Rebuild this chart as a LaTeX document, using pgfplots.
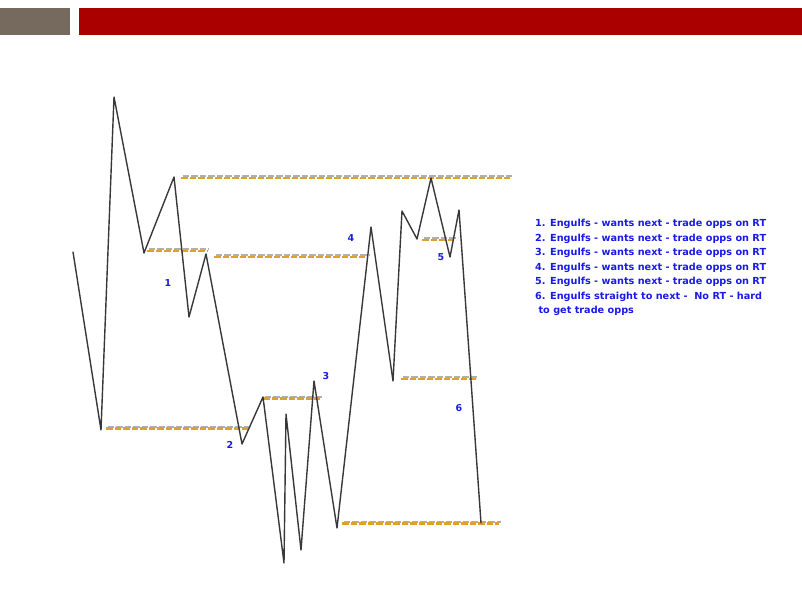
\documentclass[border=0pt]{standalone}
\usepackage{fontspec}
\setmainfont{DejaVu Sans}
\usepackage{pgfplots}
\pgfplotsset{compat=1.18}
\definecolor{hdrgray}{HTML}{76695D}
\definecolor{hdrred}{HTML}{AB0000}
\definecolor{lvlorange}{HTML}{E0A030}
\definecolor{lvlgray}{HTML}{B0B0B0}
\definecolor{zig}{HTML}{383838}
\definecolor{txtblue}{HTML}{1A1AE6}
\begin{document}
\begin{tikzpicture}
\begin{axis}[
  width=802bp, height=592bp, scale only axis,
  xmin=0, xmax=802, ymin=0, ymax=592, y dir=reverse,
  hide axis, clip=false,
]
% bounding frame
\addplot[draw=none] coordinates {(0,0) (802,592)};
% header bars
\fill[hdrgray] (axis cs:0,8) rectangle (axis cs:70,35);
\fill[hdrred] (axis cs:79,8) rectangle (axis cs:802,35);
% level lines: gray shadow then orange
\pgfplotsset{
  shadow/.style={lvlgray, line width=1.8bp, dash pattern=on 6.5bp off 2bp},
  level/.style={lvlorange, line width=2.3bp, dash pattern=on 6.5bp off 2bp},
}
\addplot[shadow] coordinates {(182.5,176.3) (511.5,176.3)};
\addplot[level] coordinates {(181,178) (510,178)};
\addplot[shadow] coordinates {(148.5,249.3) (208.5,249.3)};
\addplot[level] coordinates {(147,251) (207,251)};
\addplot[shadow] coordinates {(215.5,255.3) (369.5,255.3)};
\addplot[level] coordinates {(214,257) (368,257)};
\addplot[shadow] coordinates {(107.5,426.8) (249.5,426.8)};
\addplot[level] coordinates {(106,428.5) (248,428.5)};
\addplot[shadow] coordinates {(264.5,396.8) (321.5,396.8)};
\addplot[level] coordinates {(263,398.5) (320,398.5)};
\addplot[shadow] coordinates {(402.5,377.3) (477.5,377.3)};
\addplot[level] coordinates {(401,379) (476,379)};
\addplot[shadow] coordinates {(423.5,238.3) (457.5,238.3)};
\addplot[level] coordinates {(422,240) (456,240)};
\addplot[shadow] coordinates {(343.5,521.8) (500.5,521.8)};
\addplot[level] coordinates {(342,523.5) (499,523.5)};
% zigzag price path
\addplot[zig, line width=1.4bp, line join=round, line cap=round] coordinates {
  (73,252) (101,430) (114,97) (144,253) (174,177) (189,317) (206,254)
  (242,444) (263,397) (284,563) (286,414) (301,550) (314,381) (337,528)
  (371,227) (393,381) (402,211) (417,239) (431,178) (450,257) (459,210)
  (481,523)
};
% numbers
\begin{scope}[every node/.style={text=txtblue, font=\bfseries\fontsize{9.5bp}{10bp}\selectfont}]
\node at (axis cs:168,283) {1};
\node at (axis cs:230,445) {2};
\node at (axis cs:326,376) {3};
\node at (axis cs:351,238) {4};
\node at (axis cs:441,257) {5};
\node at (axis cs:459,408) {6};
\end{scope}
% text block
\node[anchor=north west, text=txtblue, align=left, inner sep=0pt,
  font=\bfseries\fontsize{9.7bp}{14.5bp}\selectfont]
  at (axis cs:535,219) {1. Engulfs - wants next - trade opps on RT\\
2. Engulfs - wants next - trade opps on RT\\
3. Engulfs - wants next - trade opps on RT\\
4. Engulfs - wants next - trade opps on RT\\
5. Engulfs - wants next - trade opps on RT\\
6. Engulfs straight to next -\ \ No RT - hard\\
\ to get trade opps};
\end{axis}
\end{tikzpicture}
\end{document}
